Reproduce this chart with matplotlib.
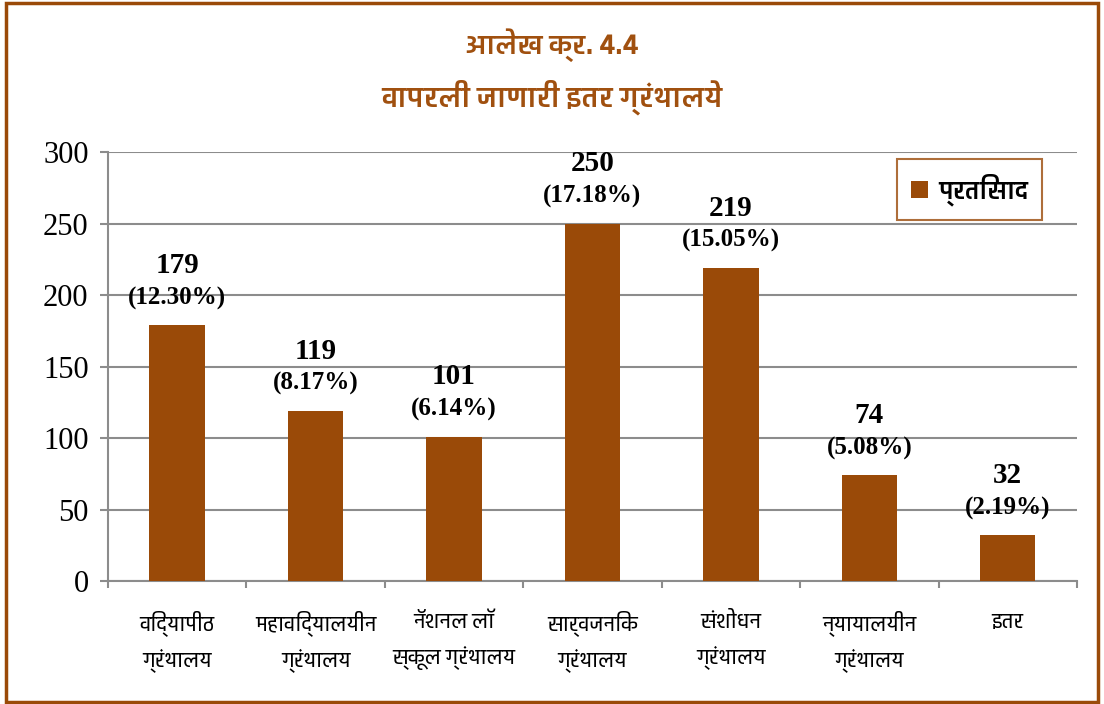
import numpy as np
import matplotlib
matplotlib.use('Agg')
import matplotlib.pyplot as plt
from matplotlib import font_manager
from matplotlib.ft2font import FT2Font
from matplotlib.patches import Rectangle

# Data
categories = ['विद्यापीठ\nग्रंथालय', 'महाविद्यालयीन\nग्रंथालय', 'नॅशनल लॉ\nस्कूल ग्रंथालय',
              'सार्वजनिक\nग्रंथालय', 'संशोधन\nग्रंथालय', 'न्यायालयीन\nग्रंथालय', 'इतर']
responses = [179, 119, 101, 250, 219, 74, 32]
percents = ['12.30', '8.17', '6.14', '17.18', '15.05', '5.08', '2.19']
title_lines = ['आलेख क्र. 4.4', 'वापरली जाणारी इतर ग्रंथालये']
legend_label = 'प्रतिसाद'

bar_color = '#9A4A08'
title_color = '#A0500F'
grid_color = '#8C8C8C'


def find_deva_font():
    # look for an installed font that has Devanagari glyphs, bold one first
    found = []
    for f in font_manager.fontManager.ttflist:
        try:
            if FT2Font(f.fname).get_char_index(ord('क')):
                found.append(f)
        except Exception:
            pass
    if not found:
        return None
    found.sort(key=lambda f: -(f.weight if isinstance(f.weight, int) else 400))
    return found[0].name


deva = find_deva_font()
deva_family = ([deva] if deva else []) + ['Noto Sans', 'DejaVu Sans']
serif_family = ['Liberation Serif', 'DejaVu Serif']

fig = plt.figure(figsize=(11.04, 7.04), dpi=100)
ax = fig.add_axes([0.0978, 0.1747, 0.8777, 0.6093])

x = np.arange(len(categories))
bars = ax.bar(x, responses, width=0.4, color=bar_color, label=legend_label, zorder=3)

# value labels
for xi, v, p in zip(x, responses, percents):
    ax.annotate(str(v), (xi, v), xytext=(0, 43), textcoords='offset points',
                ha='center', va='center', fontsize=21, fontweight='bold',
                family=serif_family, zorder=4)
    ax.annotate('(' + p + '%)', (xi, v), xytext=(0, 19.5), textcoords='offset points',
                ha='center', va='center', fontsize=18, fontweight='bold',
                family=serif_family, zorder=4)

ax.set_xlim(-0.5, len(categories) - 0.5)
ax.set_ylim(0, 300)
ax.set_yticks(np.arange(0, 301, 50))
ax.yaxis.grid(True, color=grid_color, linewidth=1.5, zorder=0)
ax.set_axisbelow(True)

for s in ['top', 'right']:
    ax.spines[s].set_visible(False)
for s in ['left', 'bottom']:
    ax.spines[s].set_color(grid_color)
    ax.spines[s].set_linewidth(1.5)

ax.set_xticks(x)
ax.set_xticklabels(categories, family=deva_family, fontsize=15, fontweight='normal',
                   linespacing=1.7)
ax.tick_params(axis='x', which='major', length=0, pad=21)
ax.set_xticks(np.arange(-0.5, len(categories), 1), minor=True)
ax.tick_params(axis='x', which='minor', length=5, width=1.5, color=grid_color)
ax.tick_params(axis='y', length=6, width=1.5, color=grid_color, pad=8)
for lab in ax.get_yticklabels():
    lab.set_family(serif_family)
    lab.set_fontsize(22)

leg = ax.legend(loc='upper right', bbox_to_anchor=(0.977, 1.012), frameon=True, fancybox=False,
                prop={'family': deva_family, 'size': 18, 'weight': 'bold'},
                handlelength=0.7, handleheight=0.7, borderpad=0.55, handletextpad=0.4)
leg.get_frame().set_edgecolor(bar_color)
leg.get_frame().set_linewidth(1.5)

fig.text(0.5, 0.936, title_lines[0], ha='center', va='center', fontsize=20,
         fontweight='bold', color=title_color, family=deva_family)
fig.text(0.5, 0.862, title_lines[1], ha='center', va='center', fontsize=21,
         fontweight='bold', color=title_color, family=deva_family)

# outer border
fig.patches.append(Rectangle((0.005, 0.003), 0.99, 0.993, transform=fig.transFigure,
                             fill=False, edgecolor=bar_color, linewidth=2.5))

fig.savefig('out.png', dpi=100)
